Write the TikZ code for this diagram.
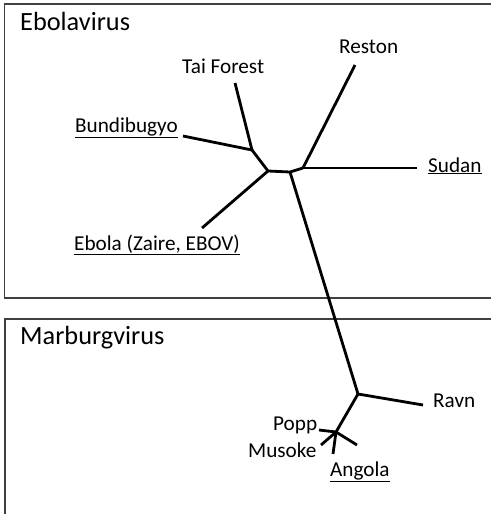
\documentclass[tikz,border=0pt]{standalone}
\usepackage{fontspec}
\setmainfont{Carlito}
\begin{document}
\begin{tikzpicture}[x=1pt,y=-1pt,
  box/.style={draw=black!75,line width=1.2pt},
  branch/.style={draw=black,line width=2.8pt,line join=round},
  title/.style={anchor=base west,inner sep=0pt,font=\fontsize{26.3}{30}\selectfont},
  lab/.style={anchor=base west,inner sep=0pt,font=\fontsize{21.2}{25}\selectfont},
]
\useasboundingbox (0,0) rectangle (490,514);
% boxes
\draw[box] (492,4) -- (4.5,4) -- (4.5,298) -- (492,298);
\draw[box] (492,319) -- (5,319) -- (5,516);
% titles
\node[title] (ebt) at (20,30) {Ebolavirus};
\node[title] (mbt) at (20,344) {Marburgvirus};
% labels
\node[lab] (tai) at (182,73) {Tai Forest};
\node[lab] (res) at (339,53) {Reston};
\node[lab] (bun) at (75,132) {\underline{Bundibugyo}};
\node[lab] (sud) at (428,172) {\underline{Sudan}};
\node[lab] (ebo) at (74,250) {\underline{Ebola (Zaire, EBOV)}};
\node[lab] (rav) at (433,407) {Ravn};
\node[lab] (pop) at (273,430) {Popp};
\node[lab] (mus) at (248,457) {Musoke};
\node[lab] (ang) at (330,476) {\underline{Angola}};
% tree coordinates
\coordinate (A) at (252,150);
\coordinate (B) at (268,171);
\coordinate (C) at (290,172);
\coordinate (D) at (303,168);
\coordinate (M) at (358,394);
\coordinate (N) at (336,432);
\coordinate (tTai) at (235,83);
\coordinate (tBun) at (183,136);
\coordinate (tEbo) at (202,228);
\coordinate (tRes) at (355,65);
\coordinate (tSud) at (417,168);
\coordinate (tRav) at (423,405);
\coordinate (tPop) at (319,430);
\coordinate (tMus) at (321,445);
\coordinate (tVer) at (333,454);
\coordinate (tAng) at (357,445);
% branches
\draw[branch] (tTai) -- (A);
\draw[branch] (tBun) -- (A);
\draw[branch] (A) -- (B) -- (C) -- (D);
\draw[branch] (tEbo) -- (B);
\draw[branch] (D) -- (tRes);
\draw[branch] (D) -- (tSud);
\draw[branch] (C) -- (M);
\draw[branch] (M) -- (tRav);
\draw[branch] (M) -- (N);
\draw[branch] (N) -- (tPop);
\draw[branch] (N) -- (tMus);
\draw[branch] (N) -- (tVer);
\draw[branch] (N) -- (tAng);
\end{tikzpicture}
\end{document}
